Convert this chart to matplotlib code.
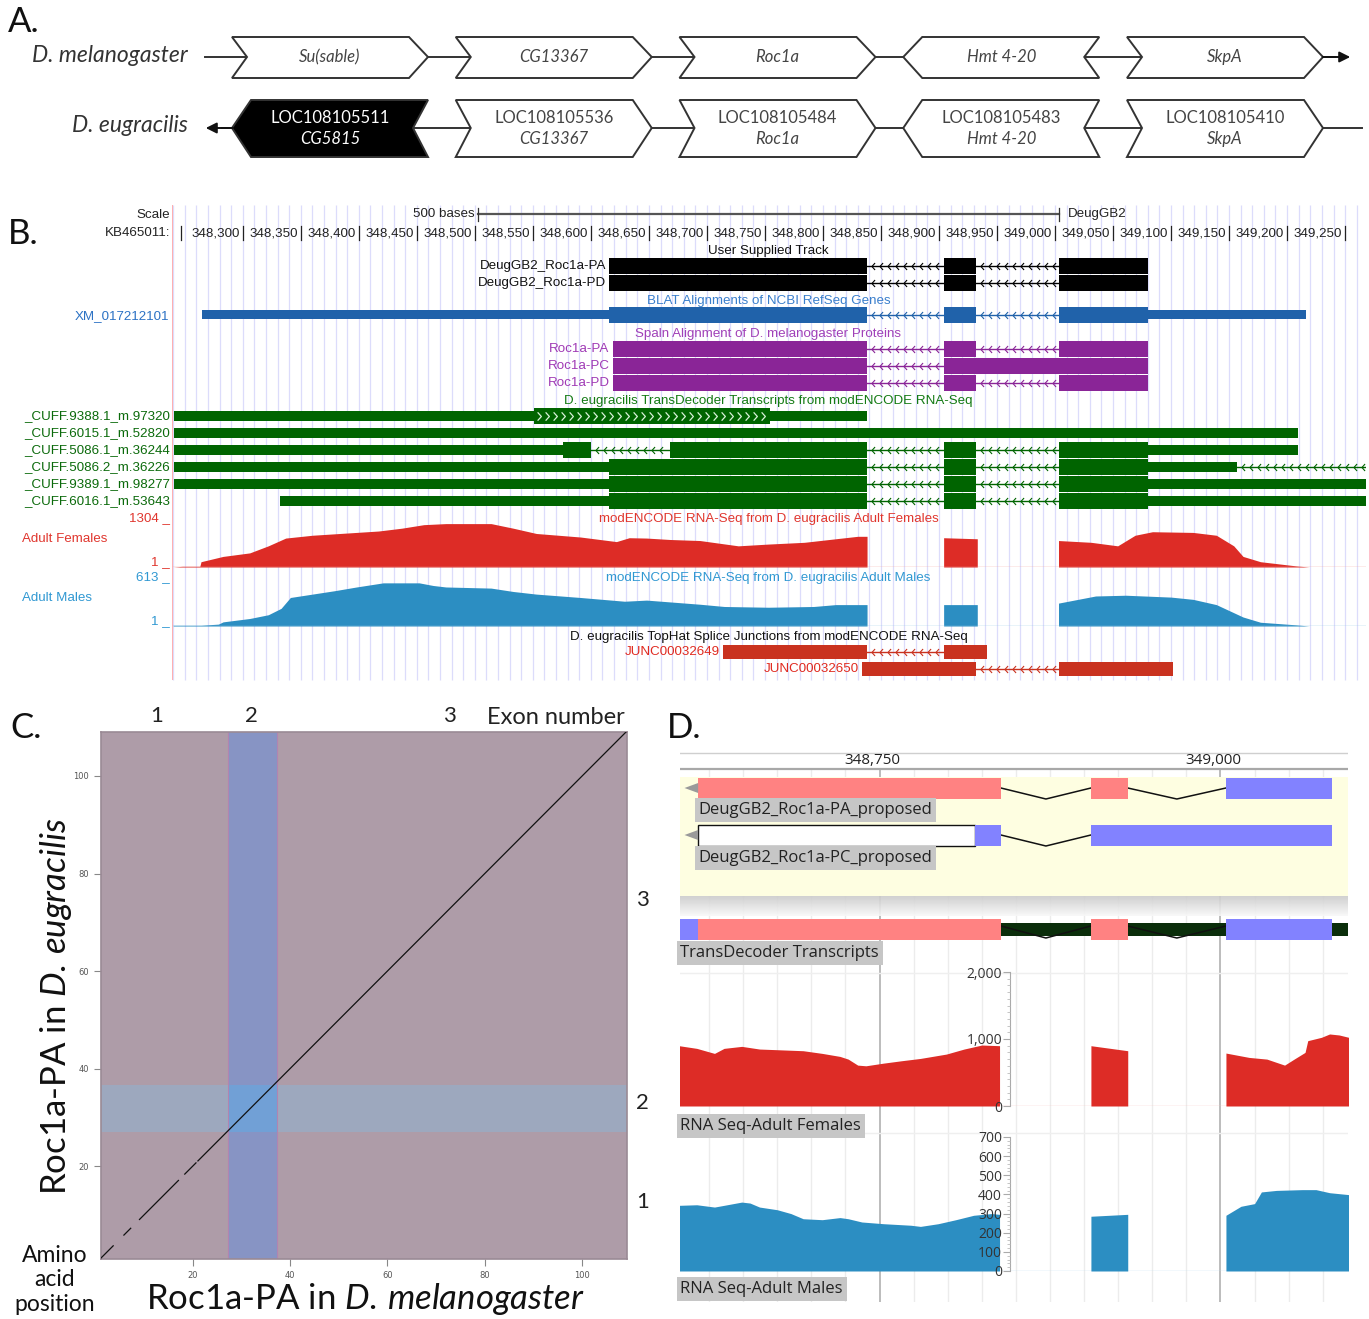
import numpy as np
import matplotlib
matplotlib.use("Agg")
import matplotlib.pyplot as plt
from matplotlib.patches import Polygon, Rectangle
from matplotlib.path import Path
from matplotlib.ticker import MultipleLocator, FuncFormatter

plt.rcParams["mathtext.fontset"] = "custom"
plt.rcParams["mathtext.rm"] = "Lato"
plt.rcParams["mathtext.it"] = "Lato:italic"

W, H = 1369, 1319
HELV = ["Liberation Sans", "DejaVu Sans"]
AVEN = ["Lato", "DejaVu Sans"]
JBR = ["Open Sans", "DejaVu Sans"]

# ---------- A. gene neighbourhood
mel_genes = ["Su(sable)", "CG13367", "Roc1a", "Hmt 4-20", "SkpA"]
mel_strand = [1, 1, 1, -1, 1]
eug_loc = ["LOC108105511", "LOC108105536", "LOC108105484", "LOC108105483", "LOC108105410"]
eug_genes = ["CG5815", "CG13367", "Roc1a", "Hmt 4-20", "SkpA"]
eug_strand = [-1, 1, 1, -1, 1]
eug_other = [True, False, False, False, False]

# ---------- B. UCSC browser, KB465011
b_view = (348239, 349268)
b_ticks = list(range(348300, 349251, 50))
scale_bar = (348503, 349003)
exon1 = (348616, 348838)
exon2 = (348904, 348932)
exon3 = (349003, 349080)

user_names = ["DeugGB2_Roc1a-PA", "DeugGB2_Roc1a-PD"]
xm_name = "XM_017212101"
xm_blocks = [(348265, 348616, "M"), (*exon1, "T"), (*exon2, "T"), (*exon3, "T"), (349080, 349216, "M")]
spaln_names = ["Roc1a-PA", "Roc1a-PC", "Roc1a-PD"]
spaln_blocks = [
    [(348619, 348838, "T"), (*exon2, "T"), (*exon3, "T")],
    [(348619, 348838, "T"), (348904, 349080, "T")],
    [(348619, 348838, "T"), (*exon2, "T"), (*exon3, "T")],
]
cuff_names = ["_CUFF.9388.1_m.97320", "_CUFF.6015.1_m.52820", "_CUFF.5086.1_m.36244",
              "_CUFF.5086.2_m.36226", "_CUFF.9389.1_m.98277", "_CUFF.6016.1_m.53643"]
cuff_blocks = [
    [(348241, 348551, "M"), (348551, 348754, "TA"), (348754, 348838, "M")],
    [(348241, 349209, "M")],
    [(348241, 348576, "M"), (348576, 348600, "T"), (348668, 348838, "T"), (*exon2, "T"), (*exon3, "T"), (349080, 349209, "M")],
    [(348241, 348616, "M"), (*exon1, "T"), (*exon2, "T"), (*exon3, "T"), (349080, 349157, "M")],
    [(348241, 348616, "M"), (*exon1, "T"), (*exon2, "T"), (*exon3, "T"), (349080, 349268, "M")],
    [(348332, 348616, "M"), (*exon1, "T"), (*exon2, "T"), (*exon3, "T"), (349080, 349268, "M")],
]
cuff_tail = [None, None, None, 349300, None, None]
junc_names = ["JUNC00032649", "JUNC00032650"]
junc_blocks = [
    [(348714, 348838, "T"), (348904, 348941, "T")],
    [(348834, 348932, "T"), (349003, 349102, "T")],
]

fem_b_max, male_b_max = 1304, 613
fem_b_pos = [348240, 348248, 348263, 348264, 348283, 348306, 348322, 348337, 348360, 348398,
             348417, 348437, 348456, 348475, 348514, 348533, 348553, 348572, 348591, 348622,
             348633, 348648, 348668, 348694, 348727, 348753, 348784, 348811, 348830, 348838,
             348838, 348904, 348904, 348933, 348933, 349003, 349003, 349031, 349054, 349069,
             349084, 349119, 349139, 349154, 349162, 349177, 349208, 349219]
fem_b_val = [0, 20, 20, 150, 300, 400, 600, 820, 900, 980,
             1020, 1100, 1200, 1230, 1230, 1100, 950, 900, 850, 720,
             830, 820, 780, 750, 600, 650, 700, 800, 870, 870,
             0, 0, 830, 800, 0, 0, 750, 700, 600, 900,
             1000, 980, 900, 600, 300, 150, 30, 0]
male_b_pos = [348240, 348264, 348279, 348283, 348306, 348322, 348333, 348341, 348360, 348379,
              348398, 348421, 348452, 348464, 348475, 348514, 348533, 348553, 348591, 348629,
              348648, 348694, 348715, 348753, 348792, 348811, 348838,
              348838, 348904, 348904, 348933, 348933, 349003, 349003, 349035, 349061,
              349100, 349119, 349139, 349162, 349177, 349208, 349219]
male_b_val = [10, 10, 25, 55, 100, 150, 235, 380, 425, 470,
              520, 575, 575, 540, 520, 505, 460, 425, 380, 330,
              345, 290, 260, 250, 260, 285, 285,
              0, 0, 285, 285, 0, 0, 305, 400, 410,
              385, 355, 285, 120, 50, 15, 0]

# ---------- C. dot plot, amino acid positions
c_xlim = (1.2, 109.2)
c_ylim = (1.0, 109.0)
exon2_mel = (27.2, 37.3)
exon2_eug = (27.0, 36.7)
diag_start = [1.2, 5.9, 9.1, 18.4, 21.1]
diag_end = [3.7, 7.3, 17.1, 20.7, 109.2]
exon_label_x = [12.6, 32.0, 72.7]
exon_label_y = [12.6, 33.0, 74.5]
exon_numbers = ["1", "2", "3"]

# ---------- D. Apollo / JBrowse
d_view = (348603.7, 349093.5)
d_ticks = [348750, 349000]
pa_blocks = [(348617, 348839, "cds"), (348905, 348932, "cds"), (349004, 349082, "utr")]
pc_blocks = [(348617, 348820, "nc"), (348820, 348839, "utr"), (348905, 349082, "utr")]
td_blocks = [(348604, 348617, "utr"), (348617, 348839, "cds"), (348905, 348932, "cds"), (349004, 349082, "utr")]

fem_d_pos = [348603, 348616, 348629, 348636, 348649, 348662, 348675, 348694, 348708, 348721,
             348727, 348734, 348740, 348753, 348766, 348780, 348799, 348812, 348825, 348838,
             348838, 348905, 348905, 348932, 348932, 349004, 349004, 349021, 349034, 349047,
             349054, 349062, 349064, 349074, 349080, 349087, 349094]
fem_d_val = [900, 860, 785, 860, 890, 850, 840, 825, 785, 740,
             700, 610, 600, 640, 675, 710, 775, 850, 910, 900,
             0, 0, 900, 825, 0, 0, 790, 725, 700, 610,
             700, 800, 975, 1025, 1075, 1060, 1025]
male_d_pos = [348603, 348616, 348629, 348636, 348649, 348655, 348662, 348675, 348685, 348694,
              348708, 348721, 348727, 348737, 348753, 348773, 348780, 348793, 348806, 348819,
              348832, 348838, 348838, 348905, 348905, 348932, 348932, 349004, 349004, 349015,
              349025, 349030, 349041, 349060, 349070, 349080, 349094]
male_d_val = [343, 346, 334, 343, 360, 355, 334, 320, 300, 273,
              268, 279, 273, 256, 247, 239, 233, 247, 268, 291,
              300, 296, 0, 0, 286, 296, 0, 0, 291, 338,
              352, 413, 421, 425, 425, 409, 399]

# ================================================================
fig = plt.figure(figsize=(W / 100, H / 100), dpi=100)


def px_axes(x0, y0, x1, y1):
    return fig.add_axes([x0 / W, 1 - y1 / H, (x1 - x0) / W, (y1 - y0) / H])


ov = px_axes(0, 0, W, H)
ov.set_xlim(0, W)
ov.set_ylim(H, 0)
ov.axis("off")
ov.set_zorder(10)

for lab, x, y in [("A.", 8, 22), ("B.", 8, 234), ("C.", 10, 728), ("D.", 667, 728)]:
    ov.text(x, y, lab, fontsize=25, family=AVEN, va="center", ha="left", color="#111")

# ---------- panel A
slot0, slot_step, slot_w = 232, 223.75, 196
tip, notch = 19, 15


def gene_shape(x0, x1, yc, top, bot, strand):
    if strand > 0:
        pts = [(x0, top), (x1 - tip, top), (x1, yc), (x1 - tip, bot), (x0, bot), (x0 + notch, yc)]
    else:
        pts = [(x0, yc), (x0 + tip, top), (x1, top), (x1 - notch, yc), (x1, bot), (x0 + tip, bot)]
    return pts


ov.plot([205, 1335], [57, 57], color="#333", lw=1.4, zorder=1)
ov.annotate("", xy=(1353, 57), xytext=(1320, 57),
            arrowprops=dict(arrowstyle="-|>", color="#111", lw=1.4, mutation_scale=16))
ov.plot([222, 1362], [128, 128], color="#333", lw=1.4, zorder=1)
ov.annotate("", xy=(203, 128), xytext=(236, 128),
            arrowprops=dict(arrowstyle="-|>", color="#111", lw=1.4, mutation_scale=16))
ov.text(188, 55, "D. melanogaster", ha="right", va="center", fontsize=16.5, style="italic",
        family=AVEN, color="#333")
ov.text(188, 126, "D. eugracilis", ha="right", va="center", fontsize=16.5, style="italic",
        family=AVEN, color="#333")

for i, (name, s) in enumerate(zip(mel_genes, mel_strand)):
    x0 = slot0 + i * slot_step
    ov.add_patch(Polygon(gene_shape(x0, x0 + slot_w, 57, 37, 78, s), closed=True,
                         facecolor="white", edgecolor="#333", lw=1.4, zorder=2))
    ov.text(x0 + slot_w / 2, 57, name, ha="center", va="center", fontsize=12, style="italic",
            family=AVEN, color="#444", zorder=3)

for i, (loc, name, s, other) in enumerate(zip(eug_loc, eug_genes, eug_strand, eug_other)):
    x0 = slot0 + i * slot_step
    fc, tc = ("black", "white") if other else ("white", "#444")
    ov.add_patch(Polygon(gene_shape(x0, x0 + slot_w, 128, 100, 157, s), closed=True,
                         facecolor=fc, edgecolor="#333", lw=1.4, zorder=2))
    ov.text(x0 + slot_w / 2, 118, loc, ha="center", va="center", fontsize=12, family=AVEN,
            color=tc, zorder=3)
    ov.text(x0 + slot_w / 2, 139, name, ha="center", va="center", fontsize=12, style="italic",
            family=AVEN, color=tc, zorder=3)

# ---------- panel B
BLACK, XMBLUE, PURPLE, GREEN, JRED = "#000000", "#2062aa", "#8a2597", "#006400", "#c9321f"
FEMRED, MALEBLUE = "#dd2c26", "#2c8ec2"
chev_l = Path([(0.45, 1.0), (-0.45, 0.0), (0.45, -1.0)], [Path.MOVETO, Path.LINETO, Path.LINETO])
chev_r = Path([(-0.45, 1.0), (0.45, 0.0), (-0.45, -1.0)], [Path.MOVETO, Path.LINETO, Path.LINETO])

axB = px_axes(172, 200, 1366, 682)
axB.set_xlim(*b_view)
axB.set_ylim(682, 200)
axB.axis("off")
axB.vlines(np.arange(348240, b_view[1], 10), 205, 680, color="#dcdcfb", lw=0.9, zorder=0)
axB.vlines(b_view[0] + 0.4, 205, 680, color="#ffa8a8", lw=1.3, zorder=1)


def ucsc_track(ax, yc, blocks, color, tall=15.5, thin=10, tail=None, lw_int=1.0):
    for s, e, k in blocks:
        h = thin if k == "M" else tall
        ax.add_patch(Rectangle((s, yc - h / 2), e - s, h, facecolor=color, edgecolor="none", zorder=3))
        if k == "TA":
            xs = np.arange(s + 4, e - 2, 6.9)
            ax.plot(xs, np.full(len(xs), yc), ls="none", marker=chev_r, ms=6, mew=0.9,
                    mec="#d8f0d8", mfc="none", zorder=4)
    gaps = [(a[1], b[0]) for a, b in zip(blocks[:-1], blocks[1:]) if b[0] > a[1]]
    if tail:
        gaps.append((blocks[-1][1], tail))
    for g0, g1 in gaps:
        ax.plot([g0, g1], [yc, yc], color=color, lw=lw_int, zorder=2)
        xs = np.arange(g0 + 5, g1 - 2, 6.9)
        ax.plot(xs, np.full(len(xs), yc), ls="none", marker=chev_l, ms=5, mew=0.8,
                mec=color, mfc="none", zorder=2)


# ruler
for t in b_ticks:
    axB.plot([t, t], [226, 240], color="#222", lw=0.9)
    axB.text(t - 2.5, 233.5, f"{t:,}", ha="right", va="center", fontsize=9.6, family=HELV, color="#222")
axB.plot([348247, 348247], [226, 240], color="#222", lw=0.9)
axB.plot(scale_bar, [214, 214], color="#555", lw=1.6)
for t in scale_bar:
    axB.plot([t, t], [208, 221], color="#333", lw=0.9)
axB.text(scale_bar[0] - 3, 214.5, "500 bases", ha="right", va="center", fontsize=9.6, family=HELV, color="#222")
axB.text(scale_bar[1] + 8, 214.5, "DeugGB2", ha="left", va="center", fontsize=9.6, family=HELV, color="#222")
ov.text(170, 215, "Scale", ha="right", va="center", fontsize=9.6, family=HELV, color="#222")
ov.text(170, 233.5, "KB465011:", ha="right", va="center", fontsize=9.6, family=HELV, color="#222")

title_x = 348753
track_titles = [
    (251, "User Supplied Track", "#111"),
    (301, "BLAT Alignments of NCBI RefSeq Genes", "#3a7fcc"),
    (334, "Spaln Alignment of D. melanogaster Proteins", "#a040b8"),
    (401, "D. eugracilis TransDecoder Transcripts from modENCODE RNA-Seq", "#137a13"),
    (519, "modENCODE RNA-Seq from D. eugracilis Adult Females", "#e0362e"),
    (578, "modENCODE RNA-Seq from D. eugracilis Adult Males", "#3098d2"),
    (637, "D. eugracilis TopHat Splice Junctions from modENCODE RNA-Seq", "#111"),
]
for y, txt, c in track_titles:
    axB.text(title_x, y, txt, ha="center", va="center", fontsize=9.6, family=HELV, color=c, zorder=5)

for i, name in enumerate(user_names):
    y = 266 + 17 * i
    ucsc_track(axB, y, [(*exon1, "T"), (*exon2, "T"), (*exon3, "T")], BLACK, tall=16)
    axB.text(exon1[0] - 3, y, name, ha="right", va="center", fontsize=9.6, family=HELV, color="#111")

ucsc_track(axB, 315, xm_blocks, XMBLUE, tall=16, thin=9)
ov.text(169, 316, xm_name, ha="right", va="center", fontsize=9.6, family=HELV, color="#2c72c4")

for i, (name, blocks) in enumerate(zip(spaln_names, spaln_blocks)):
    y = 349 + 17 * i
    ucsc_track(axB, y, blocks, PURPLE, tall=15.5)
    axB.text(blocks[0][0] - 3, y, name, ha="right", va="center", fontsize=9.6, family=HELV, color="#a03ab5")

for i, (name, blocks, tail) in enumerate(zip(cuff_names, cuff_blocks, cuff_tail)):
    y = 416 + 17 * i
    ucsc_track(axB, y, blocks, GREEN, tail=tail)
    ov.text(170, y, name, ha="right", va="center", fontsize=9.6, family=HELV, color="#0b6a0b")

for i, (name, blocks) in enumerate(zip(junc_names, junc_blocks)):
    y = 652 + 17 * i
    ucsc_track(axB, y, blocks, JRED, tall=14)
    axB.text(blocks[0][0] - 3, y, name, ha="right", va="center", fontsize=9.6, family=HELV, color="#e02a20")

# coverage
for (y0, y1, pos, val, vmax, col, line_col, lab_col, label, ly) in [
    (521, 567, fem_b_pos, fem_b_val, fem_b_max, FEMRED, "#f19a96", "#e0362e", "Adult Females", 539),
    (580, 626, male_b_pos, male_b_val, male_b_max, MALEBLUE, "#8cc3e2", "#3098d2", "Adult Males", 598),
]:
    ax = px_axes(172, y0, 1366, y1)
    ax.set_xlim(*b_view)
    ax.set_ylim(0, vmax)
    ax.axis("off")
    ax.patch.set_alpha(0)
    ax.plot([pos[0], 349300], [0, 0], color=line_col, lw=1.0)
    ax.fill_between(pos, val, 0, color=col, lw=0)
    ov.text(170, y0 - 3, f"{vmax} _", ha="right", va="center", fontsize=9.6, family=HELV, color=lab_col)
    ov.text(170, y1 - 5, "1 _", ha="right", va="center", fontsize=9.6, family=HELV, color=lab_col)
    ov.text(22, ly, label, ha="left", va="center", fontsize=9.6, family=HELV, color=lab_col)

# ---------- panel C
axC = px_axes(101, 732, 627, 1259)
axC.set_xlim(*c_xlim)
axC.set_ylim(*c_ylim)
axC.set_facecolor("#ae9ca8")
axC.axvspan(*exon2_mel, color="#8794c4", lw=0, zorder=1)
axC.axhspan(*exon2_eug, color="#9da8be", lw=0, zorder=1)
axC.add_patch(Rectangle((exon2_mel[0], exon2_eug[0]), exon2_mel[1] - exon2_mel[0],
                        exon2_eug[1] - exon2_eug[0], color="#71a0d6", lw=0, zorder=1.5))
for xv in exon2_mel:
    axC.axvline(xv, color="#b184b0", lw=0.8, zorder=1.6)
for s, e in zip(diag_start, diag_end):
    axC.plot([s, e], [s, e], color="#111", lw=0.9, zorder=3)
axC.set_xticks([20, 40, 60, 80, 100])
axC.set_yticks([20, 40, 60, 80, 100])
axC.tick_params(labelsize=6, labelcolor="#555", color="#888", length=5, width=0.8)
for sp in axC.spines.values():
    sp.set_color("#9a8a95")
    sp.set_linewidth(1.2)
for x, n in zip(exon_label_x, exon_numbers):
    axC.text(x, 1.03, n, transform=axC.get_xaxis_transform(), ha="center", va="center",
             fontsize=16, family=AVEN, color="#222")
for y, n in zip(exon_label_y, exon_numbers):
    axC.text(1.017, y, n, transform=axC.get_yaxis_transform(), ha="left", va="center",
             fontsize=16, family=AVEN, color="#222")
ov.text(625, 717, "Exon number", ha="right", va="center", fontsize=17, family=AVEN, color="#222")
ov.text(56, 1006, r"Roc1a-PA in $\mathit{D.\,eugracilis}$", rotation=90, ha="center", va="center",
        fontsize=25, family=AVEN, color="#111")
ov.text(365, 1299, r"Roc1a-PA in $\mathit{D.\,melanogaster}$", ha="center", va="center",
        fontsize=25, family=AVEN, color="#111")
ov.text(55, 1280, "Amino\nacid\nposition", ha="center", va="center", fontsize=16.5, family=AVEN,
        color="#111", linespacing=1.18)

# ---------- panel D
PINK, LBLUE, DKGREEN = "#ff8282", "#8282ff", "#0b2e0b"
axD = px_axes(680, 745, 1348, 1302)
axD.set_xlim(*d_view)
axD.set_ylim(1302, 745)
axD.axis("off")
minor = np.arange(348625, d_view[1], 25)
axD.vlines([m for m in minor if m % 250], 768, 1302, color="#ececec", lw=1, zorder=0)
axD.vlines(d_ticks, 768, 1302, color="#b0b0b0", lw=1.2, zorder=0)
axD.plot(d_view, [753, 753], color="#cfcfcf", lw=1)
axD.plot(d_view, [768.5, 768.5], color="#a8a8a8", lw=1.6)
for t in d_ticks:
    axD.text(t - 5, 761, f"{t:,}", ha="center", va="center", fontsize=11, family=JBR, color="#222")
axD.add_patch(Rectangle((d_view[0], 777), d_view[1] - d_view[0], 119, facecolor="#fefee1",
                        edgecolor="none", zorder=1))
grad = np.linspace(0.80, 0.97, 20)[:, None] * np.ones((20, 2))
axD.imshow(np.dstack([grad, grad, grad]), extent=[d_view[0], d_view[1], 916, 896], aspect="auto",
           zorder=1, alpha=0.9)
axD.set_xlim(*d_view)
axD.set_ylim(1302, 745)
axD.plot(d_view, [973, 973], color="#efefef", lw=1, zorder=0)
axD.plot(d_view, [1133, 1133], color="#efefef", lw=1, zorder=0)

fill_of = {"cds": PINK, "utr": LBLUE, "nc": "white"}


def apollo_track(ax, yc, blocks, h=21, dip=11, back=None):
    if back is not None:
        ax.add_patch(Rectangle((back[0], yc - 6.5), back[1] - back[0], 13, facecolor=DKGREEN,
                               edgecolor="none", zorder=2))
    for s, e, k in blocks:
        ax.add_patch(Rectangle((s, yc - h / 2), e - s, h, facecolor=fill_of[k],
                               edgecolor="#111" if k == "nc" else "none", lw=1.0, zorder=3))
    for a, b in zip(blocks[:-1], blocks[1:]):
        if b[0] > a[1]:
            mid = (a[1] + b[0]) / 2
            ax.plot([a[1], mid, b[0]], [yc - (3 if back else 0), yc + dip, yc - (3 if back else 0)],
                    color="#111", lw=1.1, zorder=2.5)


for yc, blocks, lab, ly in [(788, pa_blocks, "DeugGB2_Roc1a-PA_proposed", 810),
                            (835, pc_blocks, "DeugGB2_Roc1a-PC_proposed", 858)]:
    apollo_track(axD, yc, blocks)
    s0 = blocks[0][0]
    axD.add_patch(Polygon([(s0 - 10, yc), (s0, yc - 5), (s0, yc + 5)], closed=True,
                          facecolor="#9a9a9a", edgecolor="none", zorder=3))
    axD.text(s0 + 0.5, ly, lab, ha="left", va="center", fontsize=12, family=JBR, color="#222",
             zorder=4, bbox=dict(facecolor="#c6c6c6", edgecolor="none", pad=2.6))

apollo_track(axD, 929, td_blocks, h=21, dip=9, back=d_view)
for y, lab in [(953, "TransDecoder Transcripts"), (1126, "RNA Seq-Adult Females"), (1289, "RNA Seq-Adult Males")]:
    axD.text(d_view[0] + 0.3, y, lab, ha="left", va="center", fontsize=12, family=JBR, color="#222",
             zorder=4, bbox=dict(facecolor="#c6c6c6", edgecolor="none", pad=2.6))

for (y0, y1, pos, val, vmax, major, mstep, col, line_col) in [
    (972, 1106, fem_d_pos, fem_d_val, 2000, 1000, 100, FEMRED, "#f6c4c2"),
    (1137, 1271, male_d_pos, male_d_val, 700, 100, 20, MALEBLUE, "#bfe0f0"),
]:
    ax = px_axes(680, y0, 1348, y1)
    ax.set_xlim(*d_view)
    ax.set_ylim(0, vmax)
    ax.patch.set_alpha(0)
    ax.set_axisbelow(False)
    for k in ["top", "right", "bottom"]:
        ax.spines[k].set_visible(False)
    ax.spines["left"].set_position(("data", 348846))
    ax.spines["left"].set_color("#aaaaaa")
    ax.set_xticks([])
    ax.yaxis.set_major_locator(MultipleLocator(major))
    ax.yaxis.set_minor_locator(MultipleLocator(mstep))
    ax.yaxis.set_major_formatter(FuncFormatter(lambda v, p: f"{int(v):,}"))
    ax.tick_params(axis="y", which="major", labelsize=10, labelcolor="#333", color="#aaaaaa",
                   length=5, pad=1)
    ax.tick_params(axis="y", which="minor", color="#bbbbbb", length=2.5)
    for lbl in ax.get_yticklabels():
        lbl.set_family(JBR)
    ax.plot(d_view, [0, 0], color=line_col, lw=1.0, zorder=0.4)
    ax.fill_between(pos, val, 0, color=col, lw=0, zorder=0.5)

fig.savefig("out.png", dpi=100)
